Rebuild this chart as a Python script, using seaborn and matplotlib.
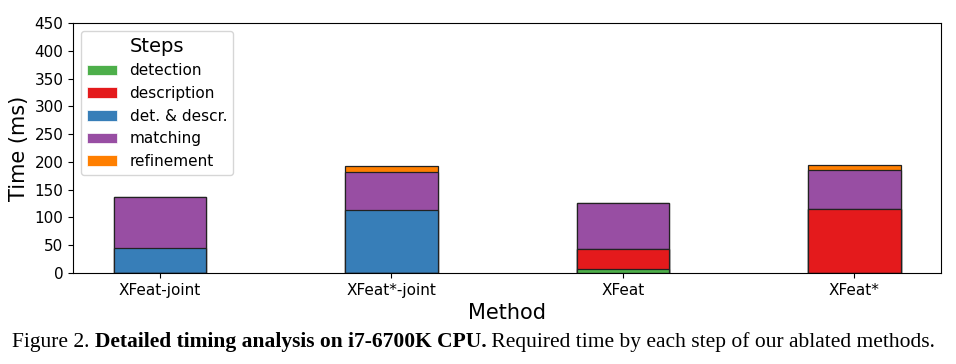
import numpy as np
import pandas as pd
import matplotlib
matplotlib.use("Agg")
import matplotlib.pyplot as plt
import seaborn as sns
from matplotlib.patches import Patch

methods = ["XFeat-joint", "XFeat*-joint", "XFeat", "XFeat*"]
steps = ["detection", "description", "det. & descr.", "matching", "refinement"]
detection = [0, 0, 8, 0]
description = [0, 0, 35, 116]
det_descr = [45, 113, 0, 0]
matching = [92, 69, 83, 69]
refinement = [0, 11, 0, 9]
colors = ["#4daf4a", "#e41a1c", "#377eb8", "#984ea3", "#ff7f00"]

df = pd.DataFrame({"detection": detection, "description": description,
                   "det. & descr.": det_descr, "matching": matching,
                   "refinement": refinement}, index=methods)
cum = df[steps].cumsum(axis=1)

fig = plt.figure(figsize=(9.56, 3.64), dpi=100)
ax = fig.add_axes([0.0764, 0.25, 0.908, 0.687])

# draw cumulative totals from the top step down so lower steps cover upper ones
for step, col in reversed(list(zip(steps, colors))):
    sns.barplot(x=methods, y=cum[step].values, color=col, width=0.4,
                saturation=1, edgecolor="#222222", linewidth=0.9, ax=ax)

ax.set_xlim(-0.375, 3.375)
ax.set_ylim(0, 450)
ax.set_yticks(np.arange(0, 451, 50))
ax.tick_params(labelsize=11)
ax.set_xlabel("Method", fontsize=15)
ax.set_ylabel("Time (ms)", fontsize=15)

handles = [Patch(facecolor=c, edgecolor="white", linewidth=0.5) for c in colors]
leg = ax.legend(handles, steps, title="Steps", loc="upper left",
                fontsize=11, title_fontsize=14)

# caption with a bold part
fig.canvas.draw()
r = fig.canvas.get_renderer()
parts = [("Figure 2. ", "normal"),
         ("Detailed timing analysis on i7-6700K CPU.", "bold"),
         (" Required time by each step of our ablated methods.", "normal")]
x = 12 / 956
for txt, w in parts:
    t = fig.text(x, 17 / 364, txt, fontsize=15.5, fontweight=w,
                 family="Liberation Serif", va="baseline", ha="left")
    bb = t.get_window_extent(r)
    x += bb.width / fig.bbox.width

fig.savefig("out.png", dpi=100)
